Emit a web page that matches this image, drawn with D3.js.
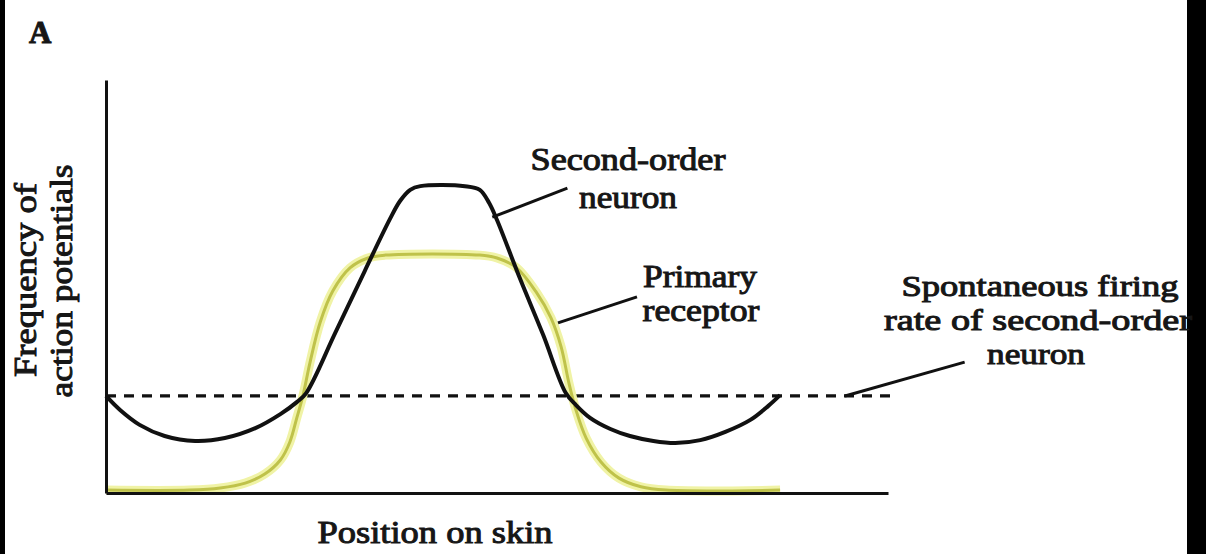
<!DOCTYPE html>
<html>
<head>
<meta charset="utf-8">
<script src="https://cdn.jsdelivr.net/npm/d3@7"></script>
<style>
  html, body { margin: 0; padding: 0; background: #fff; }
  svg { display: block; }
  text { font-family: "Liberation Serif", "Times New Roman", serif; fill: #161616; stroke: #161616; stroke-width: 1px; }
</style>
</head>
<body>
<svg id="chart" width="1206" height="554"></svg>
<script>
// Position on skin (0–100) and firing frequency (0–100, arbitrary units)
const secondOrderX = [0, 1.8, 4.3, 7.5, 11.4, 15.2, 19.1, 22.3, 24.4, 25.6, 29.3, 33.1, 36.3, 37.6, 38.9, 40.2, 45.9, 47.8, 49.0, 50.0, 52.9, 55.9, 58.8, 60.1, 61.9, 64.5, 67.0, 70.0, 72.8, 76.0, 79.2, 82.4, 84.7, 86.2];
const secondOrderY = [23.5, 20.1, 16.5, 13.8, 12.6, 13.3, 15.7, 19.1, 22.0, 24.2, 38.7, 53.8, 66.3, 70.7, 73.4, 74.3, 74.3, 73.4, 70.2, 66.1, 52.1, 38.3, 24.2, 21.3, 18.2, 15.5, 13.8, 12.6, 12.1, 12.8, 14.8, 17.7, 21.1, 23.7];

const primaryX = [0, 10.7, 14.6, 17.8, 20.3, 22.3, 23.5, 24.4, 25.2, 26.1, 27.4, 29.0, 31.2, 33.5, 35.7, 47.8, 50.0, 52.4, 55.0, 56.9, 58.2, 59.2, 60.1, 61.4, 63.3, 65.6, 68.4, 71.6, 86.2];
const primaryY = [0.7, 0.7, 1.2, 2.4, 4.6, 8.0, 12.3, 18.2, 23.7, 31.7, 41.4, 48.9, 54.5, 56.9, 57.6, 57.6, 56.9, 54.7, 48.7, 42.4, 35.4, 26.6, 20.1, 13.3, 7.5, 3.6, 1.5, 0.7, 0.7];

// Spontaneous firing rate of the second-order neuron
const spontaneousRate = 23.5;
const spontaneousExtent = [0, 100.5];

// Label pointers: [x1, y1, x2, y2] in data units
const pointerSecondOrder = [49.4, 66.8, 59.0, 73.8];
const pointerPrimary = [57.8, 41.2, 67.9, 47.5];
const pointerSpontaneous = [94.5, 23.5, 109.8, 31.7];

const labelSecondOrder = ["Second-order", "neuron"];
const labelPrimary = ["Primary", "receptor"];
const labelSpontaneous = ["Spontaneous firing", "rate of second-order", "neuron"];
const yAxisTitle = ["Frequency of", "action potentials"];
const xAxisTitle = "Position on skin";
const panelLetter = "A";

const svg = d3.select("#chart");

const x = d3.scaleLinear().domain([0, 100]).range([106, 888]);
const y = d3.scaleLinear().domain([0, 100]).range([493, 80]);

// frame strips at the image edges
svg.append("rect").attr("x", 0).attr("y", 0).attr("width", 5).attr("height", 554).attr("fill", "#000");
svg.append("rect").attr("x", 1187).attr("y", 0).attr("width", 19).attr("height", 554).attr("fill", "#000");

// dashed spontaneous-rate line
svg.append("line")
  .attr("x1", x(spontaneousExtent[0])).attr("x2", x(spontaneousExtent[1]))
  .attr("y1", y(spontaneousRate)).attr("y2", y(spontaneousRate))
  .attr("stroke", "#111").attr("stroke-width", 3.2)
  .attr("stroke-dasharray", "10 8");

const line = d3.line()
  .x(d => x(d[0])).y(d => y(d[1]))
  .curve(d3.curveCatmullRom.alpha(0.5));

const primaryPts = d3.zip(primaryX, primaryY);
const secondPts = d3.zip(secondOrderX, secondOrderY);

// primary receptor: soft yellow halo with an olive core
svg.append("path").datum(primaryPts).attr("d", line)
  .attr("fill", "none").attr("stroke", "#f0f3a6").attr("stroke-width", 9).attr("stroke-linejoin", "round");
svg.append("path").datum(primaryPts).attr("d", line)
  .attr("fill", "none").attr("stroke", "#bfc24a").attr("stroke-width", 3).attr("stroke-linejoin", "round");

// second-order neuron
svg.append("path").datum(secondPts).attr("d", line)
  .attr("fill", "none").attr("stroke", "#111").attr("stroke-width", 4).attr("stroke-linejoin", "round");

// axes (no ticks)
svg.append("g").attr("transform", `translate(0,${y(0)})`)
  .call(d3.axisBottom(x).tickValues([]).tickSizeOuter(0))
  .call(g => g.select(".domain").attr("stroke", "#111").attr("stroke-width", 3));
svg.append("g").attr("transform", `translate(${x(0)},0)`)
  .call(d3.axisLeft(y).tickValues([]).tickSizeOuter(0))
  .call(g => g.select(".domain").attr("stroke", "#111").attr("stroke-width", 3));

// pointers
[pointerSecondOrder, pointerPrimary, pointerSpontaneous].forEach(p => {
  svg.append("line")
    .attr("x1", x(p[0])).attr("y1", y(p[1]))
    .attr("x2", x(p[2])).attr("y2", y(p[3]))
    .attr("stroke", "#111").attr("stroke-width", 3);
});

// the typeface is set wide, so each line is stretched to its set width
function label(t, cx, baseline, width, size, transform) {
  const el = svg.append("text")
    .attr("text-anchor", "middle")
    .attr("font-size", size)
    .attr("textLength", width)
    .attr("lengthAdjust", "spacingAndGlyphs")
    .text(t);
  if (transform) el.attr("transform", transform).attr("x", 0).attr("y", 0);
  else el.attr("x", cx).attr("y", baseline);
  return el;
}

label(labelSecondOrder[0], 628, 170, 195, 31);
label(labelSecondOrder[1], 628, 208, 98, 31);
label(labelPrimary[0], 700, 287, 114, 31);
label(labelPrimary[1], 701, 321, 117, 31);
label(labelSpontaneous[0], 1040, 296, 277, 30);
label(labelSpontaneous[1], 1038, 330, 308, 30);
label(labelSpontaneous[2], 1036, 364, 98, 30);

// axis titles
label(xAxisTitle, 435, 543, 235, 32);
label(yAxisTitle[0], 0, 0, 194, 32, "translate(36,280) rotate(-90)");
label(yAxisTitle[1], 0, 0, 233, 32, "translate(72,281) rotate(-90)");

svg.append("text").attr("x", 29).attr("y", 43)
  .attr("font-size", 31).attr("font-weight", "bold").text(panelLetter);
</script>
</body>
</html>
